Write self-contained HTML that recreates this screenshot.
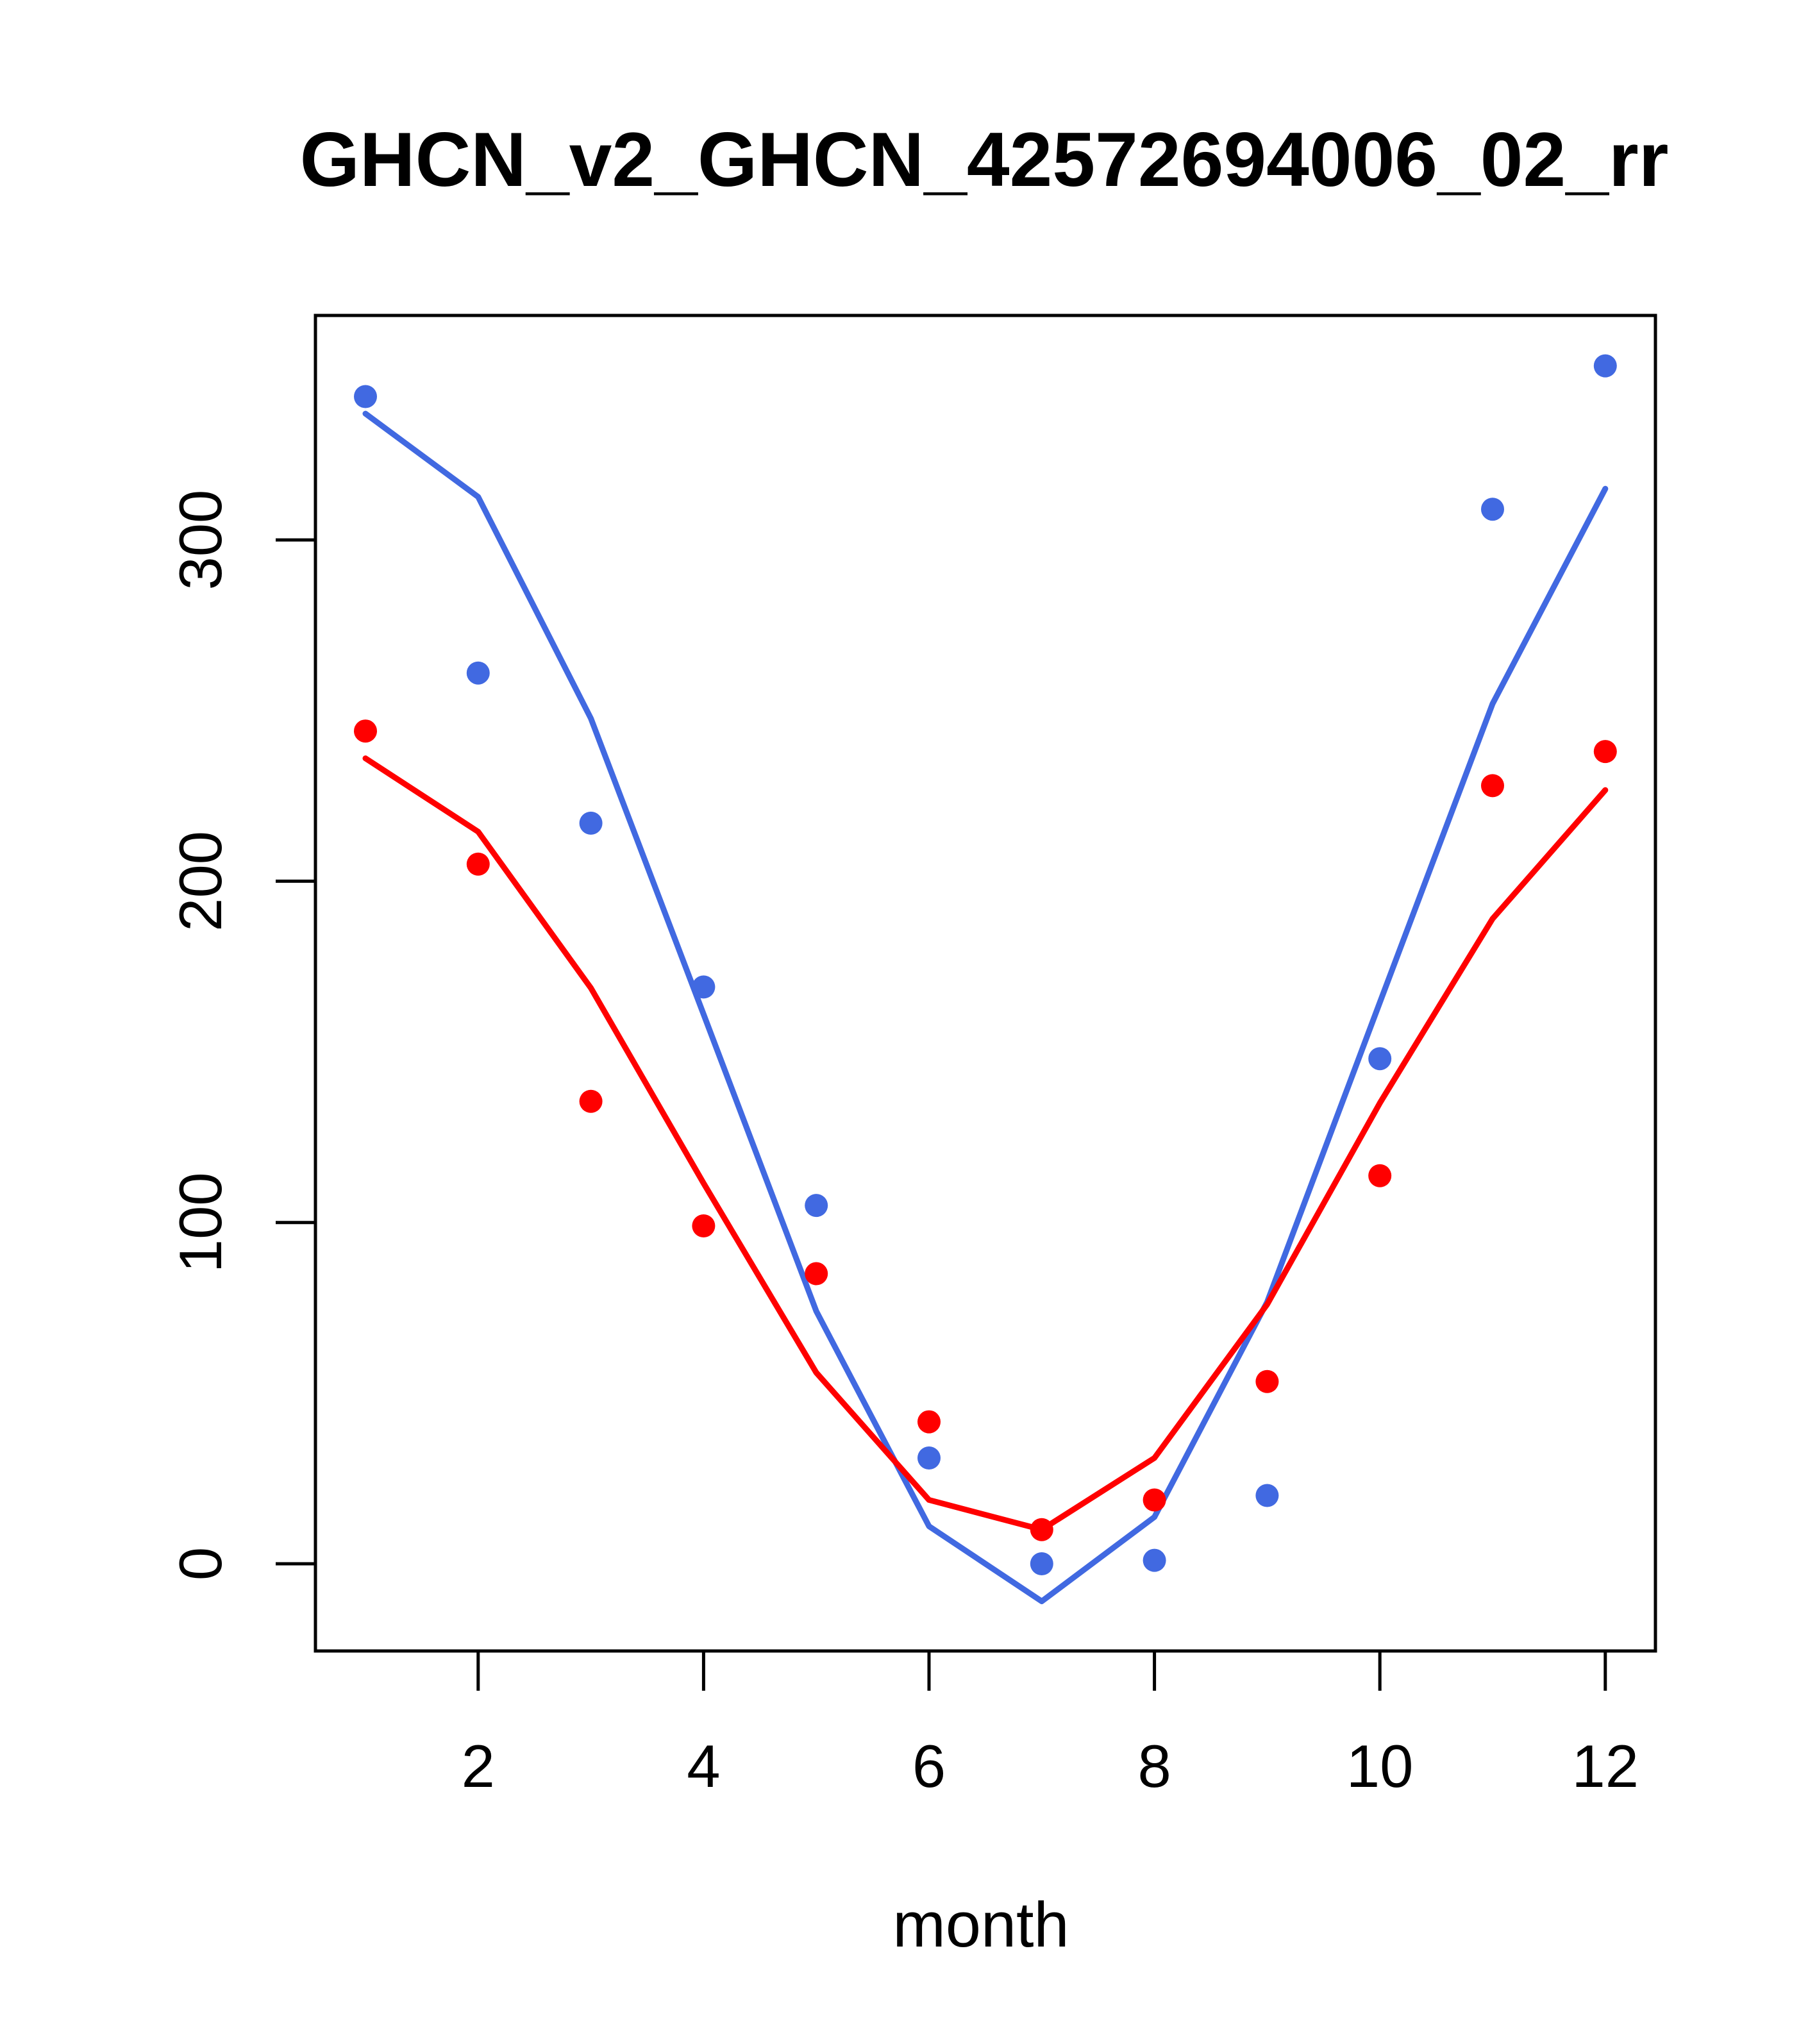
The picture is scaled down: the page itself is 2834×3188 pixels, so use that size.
<!DOCTYPE html>
<html><head><meta charset="utf-8"><style>body{margin:0;background:#fff}svg{display:block}text{font-family:"Liberation Sans",sans-serif}</style></head>
<body>
<svg id="chart" width="2834" height="3188" xmlns="http://www.w3.org/2000/svg">
<text x="1535" y="290" font-size="120" font-weight="bold" text-anchor="middle">GHCN_v2_GHCN_42572694006_02_rr</text>
<text x="1530" y="3036" font-size="99" text-anchor="middle">month</text>
<rect x="492" y="492" width="2090" height="2083" fill="none" stroke="#000" stroke-width="5"/>
<g id="axes"></g><g id="series"></g>
</svg>
<script>
const months=[1,2,3,4,5,6,7,8,9,10,11,12];
const bluePoints=[342,261,217,169,105,31,0,1,20,148,309,351];
const redPoints=[244,205,135.5,99,85,41.6,10,18.7,53.4,113.7,228,238];
const blueLine=[337,312.6,247.7,161,74,11,-11,13.7,76.7,164.5,252,315];
const redLine=[236,214.5,168.7,111.5,56,18.7,10,31,76,135,189,226.7];
const xTicks=[2,4,6,8,10,12];
const yTicks=[0,100,200,300];
const X=m=>570+(m-1)*175.8;
const Y=v=>2439-v*5.323;
const NS='http://www.w3.org/2000/svg';
const axes=document.getElementById('axes'),ser=document.getElementById('series');
function mk(t,a,p){const e=document.createElementNS(NS,t);for(const k in a)e.setAttribute(k,a[k]);p.appendChild(e);return e;}
xTicks.forEach(t=>{
 const l=mk('line',{x1:X(t),x2:X(t),y1:2575,y2:2637,stroke:'#000','stroke-width':5},axes);
 
 
 const s=mk('text',{x:X(t),y:2787,'font-size':94,'text-anchor':'middle'},axes);s.textContent=t;
 
 
});
yTicks.forEach(t=>{
 const l=mk('line',{x1:430,x2:492,y1:Y(t),y2:Y(t),stroke:'#000','stroke-width':5},axes);
 
 
 const s=mk('text',{x:0,y:0,'font-size':94,'text-anchor':'middle',transform:`translate(345,${Y(t)}) rotate(-90)`},axes);s.textContent=t;
 
 
});
function line(vals,col,name){
 const p=mk('polyline',{points:vals.map((v,i)=>X(months[i])+','+Y(v)).join(' '),fill:'none',stroke:col,'stroke-width':9,'stroke-linecap':'round','stroke-linejoin':'round'},ser);
 
 
}
function pts(vals,col,name){
 vals.forEach((v,i)=>{const c=mk('circle',{cx:X(months[i]),cy:Y(v),r:18,fill:col},ser);
 
 });
}
line(blueLine,'#4169E1','blue-line');
line(redLine,'#FF0000','red-line');
pts(bluePoints,'#4169E1','blue-point');
pts(redPoints,'#FF0000','red-point');
</script>
</body></html>
